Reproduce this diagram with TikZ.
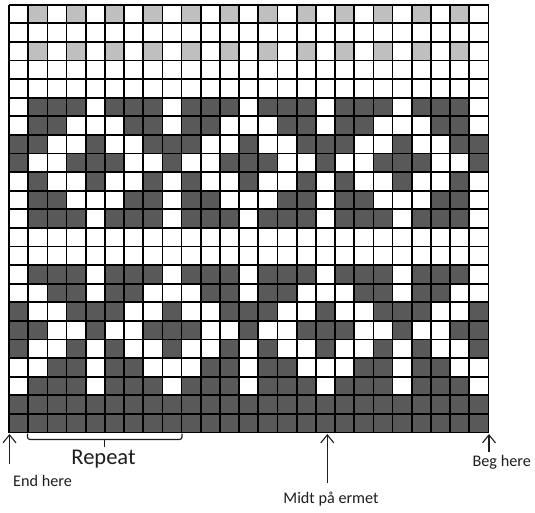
\documentclass[tikz,border=0pt]{standalone}
\usepackage{fontspec}
\setmainfont{Carlito}
\usetikzlibrary{arrows.meta}
\definecolor{cellDark}{RGB}{89,89,89}
\definecolor{cellLight}{RGB}{191,191,191}
\definecolor{inkText}{RGB}{30,30,30}
\tikzset{
  gridline/.style={line width=1.7pt, black},
  pointer/.style={line width=1.1pt, inkText, -{Straight Barb[length=8pt,width=13pt,line width=1.1pt]}},
  label/.style={inner sep=0pt, text=inkText, font=\fontsize{16.2}{18}\selectfont},
  bracketline/.style={line width=1.2pt, inkText, rounded corners=2.5pt}
}
% chart geometry (points, y grows downward)
\def\gx{9}      % left edge
\def\gy{4.7}    % top edge
\def\cw{19.18}  % cell width
\def\ch{18.6}   % cell height
\begin{document}
\begin{tikzpicture}[x=1pt,y=-1pt]
\useasboundingbox (0,0) rectangle (535,513);
\fill[white] (0,0) rectangle (535,513);
% motif rows, one repeat of 8 stitches: 0 white, 1 light, 2 dark
\foreach \row [count=\j] in {
  {0,1,0,1,0,1,0,1},{0,0,0,0,0,0,0,0},{0,1,0,1,0,1,0,1},{0,0,0,0,0,0,0,0},
  {0,0,0,0,0,0,0,0},{0,2,2,2,0,2,2,2},{0,2,2,0,0,0,2,2},{2,2,0,0,2,0,0,2},
  {2,0,0,2,2,2,0,0},{0,2,0,0,2,0,0,2},{0,2,2,0,0,0,2,2},{0,2,2,2,0,2,2,2},
  {0,0,0,0,0,0,0,0},{0,0,0,0,0,0,0,0},{0,2,2,2,0,2,2,2},{0,0,2,2,0,2,2,0},
  {2,0,0,2,2,2,0,0},{2,2,0,0,2,0,0,2},{2,0,0,2,0,2,0,0},{0,0,2,2,0,2,2,0},
  {0,2,2,2,0,2,2,2},{2,2,2,2,2,2,2,2},{2,2,2,2,2,2,2,2}}{
  \foreach \v [count=\i] in \row {
    \ifnum\v>0
      \ifnum\v=1 \def\cellcol{cellLight}\else\def\cellcol{cellDark}\fi
      \foreach \k in {0,8,16,24}{
        \pgfmathtruncatemacro\c{\i+\k}
        \ifnum\c<26
          \fill[\cellcol] ({\gx+(\c-1)*\cw},{\gy+(\j-1)*\ch}) rectangle ++(\cw,\ch);
        \fi
      }
    \fi
  }
}
% grid lines
\foreach \j in {0,...,23}
  \draw[gridline] (\gx,{\gy+\j*\ch}) -- ({\gx+25*\cw},{\gy+\j*\ch});
\foreach \i in {0,...,25}
  \draw[gridline] ({\gx+\i*\cw},\gy) -- ({\gx+\i*\cw},{\gy+23*\ch});

% markers below the chart
\coordinate (endtip) at (9.5,434);
\coordinate (endtail) at (9.5,464);
\coordinate (midtip) at (327.3,434);
\coordinate (midtail) at (327.3,483);
\coordinate (begtip) at (489,434);
\coordinate (begtail) at (489,452);
\draw[pointer] (endtail) -- (endtip);
\draw[pointer] (midtail) -- (midtip);
\draw[pointer] (begtail) -- (begtip);

\node[label, anchor=west] (endlbl) at (13,480.5) {End here};
\node[label] (midlbl) at (331,499) {Midt på ermet};
\node[label, anchor=east] (beglbl) at (531,462) {Beg here};

% repeat bracket
\coordinate (brl) at (27.5,433.5);
\coordinate (brr) at (182,433.5);
\coordinate (brm) at (104.5,439.5);
\draw[bracketline] (brl) |- (brm) -| (brr);
\draw[line width=1.2pt, inkText] (brm) -- ++(0,7);
\node[label, font=\fontsize{22.5}{24}\selectfont] (replbl) at (103.5,459) {Repeat};
\end{tikzpicture}
\end{document}
